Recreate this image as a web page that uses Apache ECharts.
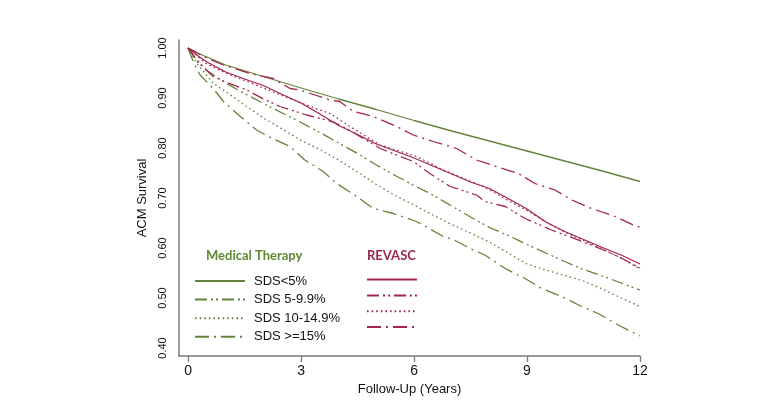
<!DOCTYPE html>
<html>
<head>
<meta charset="utf-8">
<script src="https://cdn.jsdelivr.net/npm/echarts@6/dist/echarts.min.js"></script>
<style>html,body{margin:0;padding:0;background:#fff}#c{width:770px;height:420px}</style>
</head>
<body>
<div id="c"></div>
<script>
// Follow-up times (years) and survival values
const medLt5T = [0,0.25,0.5,1,2,3,4,5,6,7,8,9,10,11,12];
const medLt5V = [1,0.99,0.982,0.966,0.943,0.92,0.898,0.877,0.855,0.834,0.814,0.794,0.774,0.754,0.733];

const med5T = [0,0.25,0.5,1,1.5,2,2.5,3,3.5,4,4.5,5,5.5,6,6.5,7,7.5,8,8.5,9,9.5,10,10.5,11,11.5,12];
const med5V = [1,0.972,0.955,0.93,0.909,0.889,0.87,0.851,0.831,0.81,0.789,0.766,0.745,0.725,0.706,0.684,0.662,0.641,0.625,0.607,0.59,0.573,0.557,0.544,0.530,0.516];

const med10T = [0,0.25,0.5,0.67,1,1.5,2,2.5,3,3.5,4,4.5,5,5.5,6,6.5,7,7.5,8,8.5,9,9.5,10,10.5,11,11.5,12];
const med10V = [1,0.968,0.945,0.929,0.913,0.886,0.86,0.838,0.815,0.797,0.776,0.752,0.727,0.705,0.686,0.666,0.647,0.630,0.612,0.59,0.568,0.556,0.545,0.534,0.518,0.500,0.483];

const med15T = [0,0.15,0.32,0.67,0.94,1.34,1.82,2.13,2.71,3.1,3.59,3.95,4.48,4.92,5.45,6.07,6.78,7.04,7.57,7.88,8.42,8.95,9.39,9.92,10.45,10.89,11.42,12];
const med15V = [1,0.97,0.946,0.919,0.893,0.866,0.836,0.823,0.803,0.776,0.753,0.729,0.703,0.679,0.669,0.653,0.623,0.617,0.596,0.586,0.559,0.539,0.519,0.503,0.483,0.469,0.446,0.424];

const revLt5T = [0,0.25,0.5,1,1.5,2,2.5,3,3.5,4,4.5,5,5.5,6,6.5,7,7.5,8,8.5,9,9.5,10,10.5,11,11.5,12];
const revLt5V = [1,0.985,0.972,0.952,0.938,0.925,0.907,0.89,0.868,0.845,0.827,0.808,0.794,0.78,0.764,0.748,0.732,0.719,0.699,0.678,0.652,0.633,0.617,0.601,0.586,0.568];

const rev5T = [0,0.25,0.5,0.67,1,1.56,2,2.44,3.15,3.86,4.3,5.1,5.98,6.42,6.96,7.66,7.88,8.42,8.95,9.65,10.5,11,11.5,12];
const rev5V = [1,0.975,0.955,0.943,0.932,0.916,0.898,0.883,0.866,0.852,0.835,0.799,0.773,0.749,0.723,0.706,0.693,0.683,0.659,0.636,0.612,0.597,0.58,0.56];

const rev10T = [0,0.5,1,1.5,2,2.5,3,3.5,3.77,4.3,5.1,6.07,6.78,7.84,8.5,9,9.5,10,10.5,11,11.5,12];
const rev10V = [1,0.968,0.95,0.935,0.92,0.905,0.89,0.876,0.869,0.843,0.806,0.783,0.756,0.723,0.695,0.675,0.652,0.632,0.615,0.598,0.58,0.558];

const rev15T = [0,0.5,0.94,1.65,2.26,2.71,2.97,3.77,4.03,4.39,4.92,5.54,5.98,6.51,7.13,7.66,8.06,8.77,9.21,9.74,10.19,10.71,11.34,11.91,12];
const rev15V = [1,0.98,0.966,0.949,0.939,0.919,0.916,0.896,0.893,0.873,0.863,0.843,0.826,0.813,0.799,0.776,0.766,0.749,0.729,0.716,0.696,0.679,0.663,0.643,0.642];

const groupLabels = ['SDS<5%','SDS 5-9.9%','SDS 10-14.9%','SDS >=15%'];
const xTicks = [0,3,6,9,12];
const yTicks = [0.4,0.5,0.6,0.7,0.8,0.9,1.0];

const GREEN = '#62833a';
const RED = '#a3284a';
const dashTypes = ['solid',[12,4,2,3,2,4],[1.6,3],[14,5,2,5]];

const medSets = [[medLt5T,medLt5V],[med5T,med5V],[med10T,med10V],[med15T,med15V]];
const revSets = [[revLt5T,revLt5V],[rev5T,rev5V],[rev10T,rev10V],[rev15T,rev15V]];

function pairs(t,v){return t.map((x,i)=>[x,v[i]]);}

const series = [];
medSets.forEach((s,i)=>{
  series.push({name:groupLabels[i],type:'line',data:pairs(s[0],s[1]),symbol:'none',showSymbol:false,
    lineStyle:{color:GREEN,width:1.3,type:dashTypes[i]},itemStyle:{color:GREEN},silent:true,animation:false});
});
revSets.forEach((s,i)=>{
  series.push({name:'REVASC '+groupLabels[i],type:'line',data:pairs(s[0],s[1]),symbol:'none',showSymbol:false,
    lineStyle:{color:RED,width:1.3,type:dashTypes[i]},itemStyle:{color:RED},silent:true,animation:false});
});

const chart = echarts.init(document.getElementById('c'),null,{renderer:'canvas'});
chart.setOption({
  animation:false,
  backgroundColor:'#fff',
  grid:{left:179,right:130,top:40,bottom:64,containLabel:false},
  xAxis:{type:'value',min:-0.24,max:12,
    name:'Follow-Up (Years)',nameLocation:'middle',nameGap:22,
    nameTextStyle:{fontFamily:'Liberation Sans',fontSize:13,color:'#111'},
    axisLine:{show:true,onZero:false,lineStyle:{color:'#7a7a7a',width:1.5}},
    axisTick:{show:true,length:6,customValues:xTicks,lineStyle:{color:'#7a7a7a',width:1.3}},
    axisLabel:{customValues:xTicks,margin:8,fontFamily:'Liberation Sans',fontSize:14,color:'#111'},
    splitLine:{show:false}},
  yAxis:{type:'value',min:0.384,max:1.016,
    name:'ACM Survival',nameLocation:'middle',nameGap:29,nameRotate:90,
    nameTextStyle:{fontFamily:'Liberation Sans',fontSize:13,color:'#111'},
    axisLine:{show:true,onZero:false,lineStyle:{color:'#7a7a7a',width:1.5}},
    axisTick:{show:false,customValues:yTicks},
    axisLabel:{customValues:yTicks,rotate:90,margin:11,fontFamily:'Liberation Sans',fontSize:11,color:'#111',
      formatter:v=>v.toFixed(2)},
    splitLine:{show:false}},
  legend:[
    {data:groupLabels,orient:'vertical',left:194,top:274,padding:0,itemWidth:50,itemHeight:14,itemGap:4.6,
     itemStyle:{opacity:0},
     textStyle:{fontFamily:'Liberation Sans',fontSize:13,color:'#111',lineHeight:14,padding:[0,0,0,4]},
     selectedMode:false},
    {data:groupLabels.map(g=>'REVASC '+g),orient:'vertical',left:366,top:274,padding:0,itemWidth:50,itemHeight:14,itemGap:4.6,
     itemStyle:{opacity:0},
     formatter:()=>'',textStyle:{fontSize:13,lineHeight:14},selectedMode:false}
  ],
  graphic:[
    {type:'text',left:206,top:249,style:{text:'Medical Therapy',fontFamily:'Lato',fontWeight:'bold',fontSize:13,fill:'#5f8a34'}},
    {type:'text',left:367,top:249,style:{text:'REVASC',fontFamily:'Lato',fontWeight:'bold',fontSize:13,fill:'#9a2848'}}
  ],
  series:series
});
</script>
</body>
</html>
